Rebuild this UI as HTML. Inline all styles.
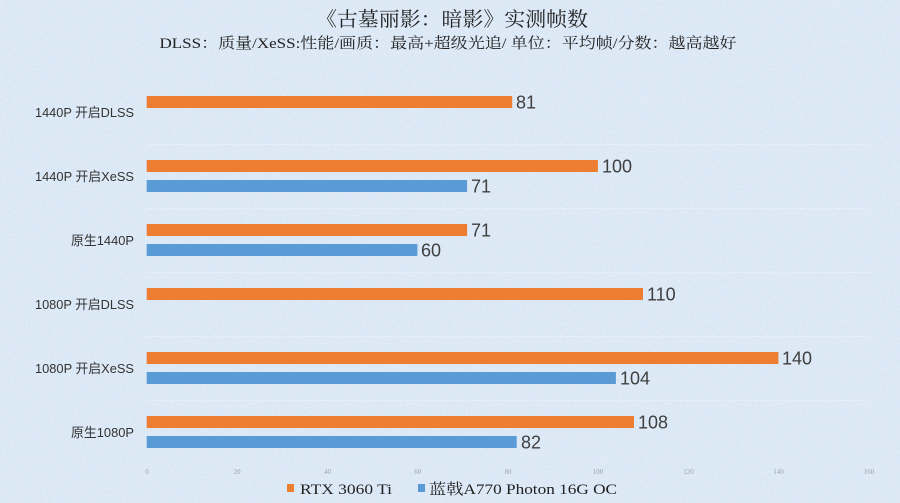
<!DOCTYPE html>
<html><head><meta charset="utf-8"><style>
html,body{margin:0;padding:0;background:#dce9f6;}
svg{display:block;}
</style></head><body>
<svg width="900" height="503" viewBox="0 0 900 503" xmlns="http://www.w3.org/2000/svg">
<defs>
<filter id="tex" x="0" y="0" width="100%" height="100%">
<feTurbulence type="fractalNoise" baseFrequency="0.35" numOctaves="2" seed="3" result="n"/>
<feColorMatrix type="matrix" values="0 0 0 0 1  0 0 0 0 1  0 0 0 0 1  0 0 0 0.35 -0.12"/>
</filter>
</defs>
<rect x="0" y="0" width="900" height="503" fill="#dae7f5"/>
<rect x="0" y="0" width="900" height="503" filter="url(#tex)"/>

<!-- title -->
<text x="452" y="26" text-anchor="middle" font-family="'Liberation Serif','Noto Serif CJK SC',serif" font-size="20" fill="#222" textLength="272" lengthAdjust="spacingAndGlyphs">《古墓丽影：暗影》实测帧数</text>
<text x="448" y="48" text-anchor="middle" font-family="'Liberation Serif','Noto Serif CJK SC',serif" font-size="15" fill="#222" textLength="577" lengthAdjust="spacingAndGlyphs">DLSS：质量/XeSS:性能/画质：最高+超级光追/ 单位：平均帧/分数：越高越好</text>

<!-- gridlines -->
<g stroke="#eef4fb" stroke-width="1" opacity="0.45">
<line x1="147" y1="144.5" x2="870" y2="144.5"/>
<line x1="147" y1="208.5" x2="870" y2="208.5"/>
<line x1="147" y1="272.5" x2="870" y2="272.5"/>
<line x1="147" y1="336.5" x2="870" y2="336.5"/>
<line x1="147" y1="400.5" x2="870" y2="400.5"/>
</g>

<!-- category labels -->
<g font-family="'Liberation Sans','Noto Sans CJK SC',sans-serif" font-size="13" fill="#333" text-anchor="end">
<text x="134" y="117" textLength="99" lengthAdjust="spacingAndGlyphs">1440P 开启DLSS</text>
<text x="134" y="181" textLength="99" lengthAdjust="spacingAndGlyphs">1440P 开启XeSS</text>
<text x="134" y="245" textLength="63" lengthAdjust="spacingAndGlyphs">原生1440P</text>
<text x="134" y="309" textLength="99" lengthAdjust="spacingAndGlyphs">1080P 开启DLSS</text>
<text x="134" y="373" textLength="99" lengthAdjust="spacingAndGlyphs">1080P 开启XeSS</text>
<text x="134" y="437" textLength="63" lengthAdjust="spacingAndGlyphs">原生1080P</text>
</g>

<!-- bars -->
<g fill="#ED7D31">
<rect x="146.7" y="96" width="365.5" height="12"/>
<rect x="146.7" y="160" width="451.2" height="12"/>
<rect x="146.7" y="224" width="320.4" height="12"/>
<rect x="146.7" y="288" width="496.3" height="12"/>
<rect x="146.7" y="352" width="631.7" height="12"/>
<rect x="146.7" y="416" width="487.3" height="12"/>
</g>
<g fill="#5B9BD5">
<rect x="146.7" y="180" width="320.4" height="12"/>
<rect x="146.7" y="244" width="270.7" height="12"/>
<rect x="146.7" y="372" width="469.2" height="12"/>
<rect x="146.7" y="436" width="370.0" height="12"/>
</g>

<!-- value labels -->
<g font-family="'Liberation Sans',sans-serif" font-size="18" fill="#404040">
<text x="516" y="108.5">81</text>
<text x="602" y="172.5">100</text>
<text x="471" y="192.5">71</text>
<text x="471" y="236.5">71</text>
<text x="421" y="256.5">60</text>
<text x="647" y="300.5">110</text>
<text x="782" y="364.5">140</text>
<text x="620" y="384.5">104</text>
<text x="638" y="428.5">108</text>
<text x="521" y="448.5">82</text>
</g>

<!-- x ticks -->
<g font-family="'Liberation Serif',serif" font-size="7" fill="#9aa4ae" text-anchor="middle">
<text x="147" y="474">0</text>
<text x="237" y="474">20</text>
<text x="327.5" y="474">40</text>
<text x="417.8" y="474">60</text>
<text x="508" y="474">80</text>
<text x="598" y="474">100</text>
<text x="688.5" y="474">120</text>
<text x="778.5" y="474">140</text>
<text x="869" y="474">160</text>
</g>

<!-- legend -->
<rect x="287" y="484" width="7" height="8" fill="#ED7D31"/>
<text x="300" y="494" font-family="'Liberation Serif','Noto Serif CJK SC',serif" font-size="15" fill="#222" textLength="92" lengthAdjust="spacingAndGlyphs">RTX 3060 Ti</text>
<rect x="418" y="484" width="7" height="8" fill="#5B9BD5"/>
<text x="429" y="494" font-family="'Liberation Serif','Noto Serif CJK SC',serif" font-size="15" fill="#222" textLength="188" lengthAdjust="spacingAndGlyphs">蓝戟A770 Photon 16G OC</text>
</svg>
</body></html>
